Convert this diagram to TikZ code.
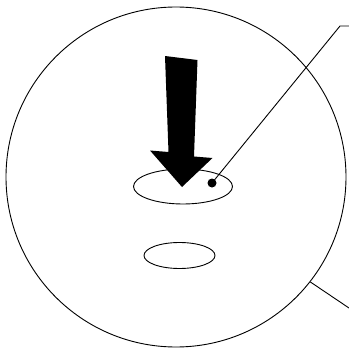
\documentclass[tikz,border=0pt]{standalone}
\usepackage{tikz}
\usetikzlibrary{positioning, shapes.geometric}

\begin{document}
\begin{tikzpicture}[
  x=1pt, y=-1pt,
  body/.style={
    circle, draw=black, line width=0.9pt, minimum size=340pt, inner sep=0pt
  },
  opening/.style={
    ellipse, draw=black, line width=0.9pt, inner sep=0pt
  },
  spot/.style={
    circle, fill=black, minimum size=9pt, inner sep=0pt
  },
  lead/.style={draw=black, line width=0.9pt},
]
\useasboundingbox (0,0) rectangle (349,348);

%% Cuerpo y aberturas
\node[body]    (disc)  at (176, 177) {};
\node[opening, minimum width=99pt, minimum height=35pt] (upper) at (183, 186.5) {};
\node[opening, minimum width=71pt, minimum height=26pt] (lower) at (179.5, 255.5) {};
\node[spot]    (dot)   at (212, 183) {};

%% Flecha gruesa
\fill[black] (165,56) -- (197.5,60) -- (194,156.5) -- (212.5,158)
  -- (182,187) -- (150,150.5) -- (168.5,152) -- cycle;

%% Lineas de referencia
\coordinate (knee)  at (340, 26);
\coordinate (endA)  at (349, 26);
\coordinate (endB)  at (349, 308);
\draw[lead] (dot.center) -- (knee) -- (endA);
\draw[lead] (disc.-38.3) -- (endB);

\end{tikzpicture}
\end{document}
